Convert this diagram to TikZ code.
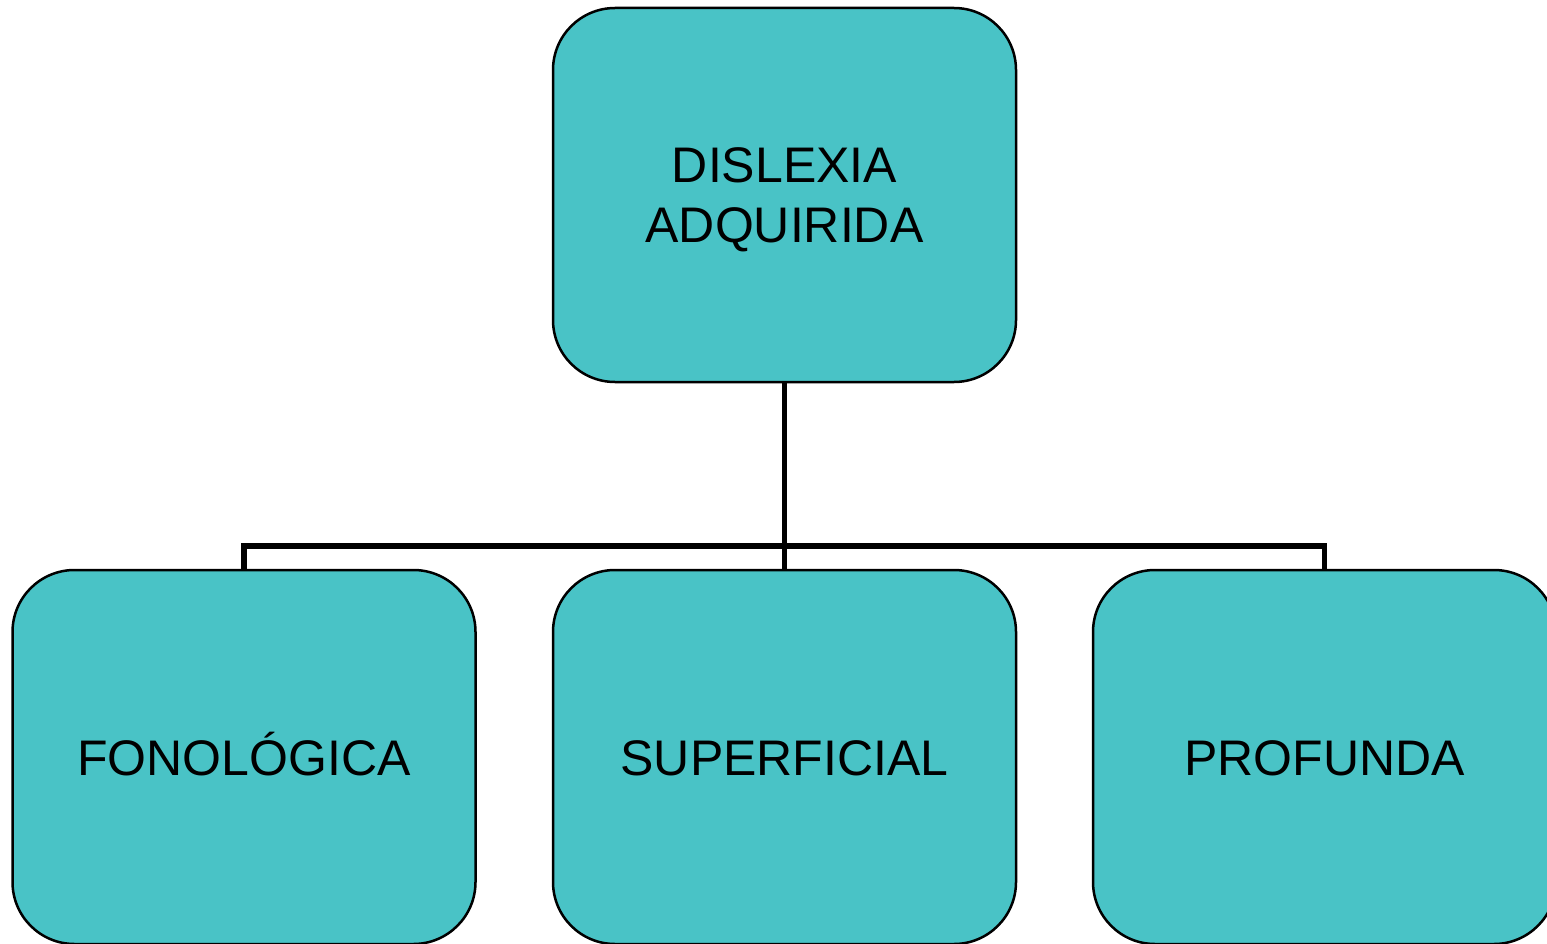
\documentclass[tikz,border=0pt]{standalone}
\usepackage{fontspec}
\setmainfont{Liberation Sans}
\definecolor{boxfill}{HTML}{49C3C6}
\begin{document}
\begin{tikzpicture}[x=1pt,y=-1pt,
  box/.style={draw=black, line width=2.5pt, fill=boxfill, rounded corners=62pt,
    minimum width=463pt, minimum height=374pt, inner sep=0pt, align=center,
    font=\fontsize{50}{60}\selectfont},
  leaf/.style={box, text height=36pt, text depth=0pt},
  toptext/.style={font=\fontsize{50}{60}\selectfont, align=center, inner sep=0pt},
  link/.style={line width=5.5pt, draw=black}]
\useasboundingbox (0,0) rectangle (1547,944);
\clip (0,0) rectangle (1547,944);
\node[box, label={[toptext, yshift=-5pt]center:DISLEXIA\\ADQUIRIDA}] (top) at (784.5,195) {};
\coordinate (bus) at (784.5,546);
\draw[link] (top.south) -- (bus);
\draw[link] (244,570) |- (bus) -| (1324.5,570);
\draw[link] (bus) -- (784.5,570);
\node[leaf] (left) at (244,757) {FONOLÓGICA};
\node[leaf] (mid) at (784.5,757) {SUPERFICIAL};
\node[leaf] (right) at (1324.5,757) {PROFUNDA};
\end{tikzpicture}
\end{document}
